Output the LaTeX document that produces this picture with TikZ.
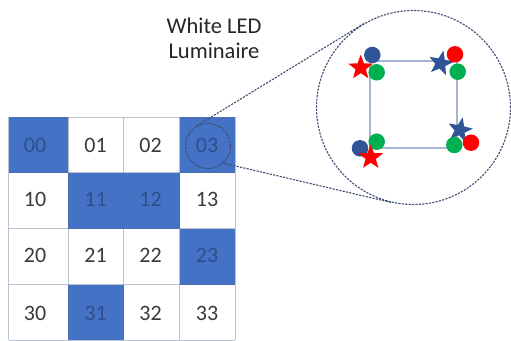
\documentclass[tikz,border=0pt]{standalone}
\usepackage{fontspec}
\setmainfont{Carlito}
\usetikzlibrary{shapes.geometric}

\definecolor{cellblue}{HTML}{4472C4}
\definecolor{celltext}{HTML}{3A3A3A}
\definecolor{celltextdark}{HTML}{2F4E8C}
\definecolor{gridline}{HTML}{5A6B8C}
\definecolor{zoomline}{HTML}{3E4F73}
\definecolor{framecol}{HTML}{A7B5D3}
\definecolor{ledblue}{HTML}{2F5597}
\definecolor{ledred}{HTML}{FF0000}
\definecolor{ledgreen}{HTML}{00B050}

\begin{document}
\begin{tikzpicture}[x=1pt,y=-1pt,
  lbl/.style={font=\fontsize{22}{24}\selectfont, text=celltext, inner sep=0pt},
  lbldark/.style={lbl, text=celltextdark},
  titletext/.style={font=\fontsize{22.5}{25}\selectfont, text=black!85, inner sep=0pt, anchor=base},
  zoomring/.style={circle, draw=zoomline, dash pattern=on 2.2pt off 1.2pt, line width=1.1pt, inner sep=0pt},
  zoomray/.style={draw=zoomline, dash pattern=on 2.2pt off 1.2pt, line width=1.1pt},
  dot/.style={circle, fill=#1, inner sep=0pt, minimum size=16.5pt},
  starmark/.style={star, star points=5, star point ratio=2.4, fill=#1, inner sep=0pt, minimum size=26pt},
  gridrule/.style={draw=gridline, draw opacity=0.4, line width=1pt},
]
\useasboundingbox (0,0) rectangle (511,340);

% highlighted cells of the 4x4 array
\fill[cellblue] (8.5,117) rectangle (68,172.5);      % 00
\fill[cellblue] (179.5,117) rectangle (235,172.5);   % 03
\fill[cellblue] (68,172.5) rectangle (179.5,228.5);  % 11, 12
\fill[cellblue] (179.5,228.5) rectangle (235,284.5); % 23
\fill[cellblue] (68,284.5) rectangle (123.5,340);    % 31

% cell labels
\node[lbldark] (l00) at (35,145.8)    {00};
\node[lbl]     (l01) at (95.5,145.8)  {01};
\node[lbl]     (l02) at (150.5,145.8) {02};
\node[lbldark] (l03) at (207,145.8)   {03};
\node[lbl]     (l10) at (35,199.5)    {10};
\node[lbldark] (l11) at (95.5,199.5)  {11};
\node[lbldark] (l12) at (150.5,199.5) {12};
\node[lbl]     (l13) at (207,199.5)   {13};
\node[lbl]     (l20) at (35,255.8)    {20};
\node[lbl]     (l21) at (95.5,255.8)  {21};
\node[lbl]     (l22) at (150.5,255.8) {22};
\node[lbldark] (l23) at (207,255.8)   {23};
\node[lbl]     (l30) at (35,313)      {30};
\node[lbldark] (l31) at (95.5,313)    {31};
\node[lbl]     (l32) at (150.5,313)   {32};
\node[lbl]     (l33) at (207,313)     {33};

% grid rules
\foreach \gx in {8.5,68,123.5,179.5,235}
  \draw[gridrule] (\gx,117) -- (\gx,340);
\foreach \gy in {117,172.5,228.5,284.5,340}
  \draw[gridrule] (8.5,\gy) -- (235,\gy);

% title
\node[titletext] (title1) at (214,33.3) {White LED};
\node[titletext] (title2) at (214,58.3) {Luminaire};

% magnifier: small ring on cell 03, large ring with the luminaire
\node[zoomring, minimum size=45pt] (lens) at (208,146) {};
\node[zoomring, minimum size=194pt] (detail) at (413.5,107.5) {};
\draw[zoomray] (lens.120.5) -- (detail.120.5);
\draw[zoomray] (lens.-48) -- (detail.257.6);

% luminaire outline
\node[draw=framecol, line width=1.2pt, minimum width=87pt, minimum height=87pt, inner sep=0pt] (frame) at (413.5,104.5) {};

% LED clusters at the four corners
\node[starmark=ledred] (s1) at (360.7,67.7) {};
\node[dot=ledblue]  (b1) at (372.3,55) {};
\node[dot=ledgreen] (g1) at (376.7,72.3) {};

\node[starmark=ledblue, rotate=-12] (s2) at (440.7,63.3) {};
\node[dot=ledred]   (r2) at (455,54.3) {};
\node[dot=ledgreen] (g2) at (457.7,71.7) {};

\node[dot=ledblue]  (b3) at (360,148.3) {};
\node[dot=ledgreen] (g3) at (376.7,141.7) {};
\node[starmark=ledred] (s3) at (370.7,157.3) {};

\node[starmark=ledblue, rotate=-12] (s4) at (460,130) {};
\node[dot=ledgreen] (g4) at (454.3,145) {};
\node[dot=ledred]   (r4) at (471,142.7) {};
\end{tikzpicture}
\end{document}
